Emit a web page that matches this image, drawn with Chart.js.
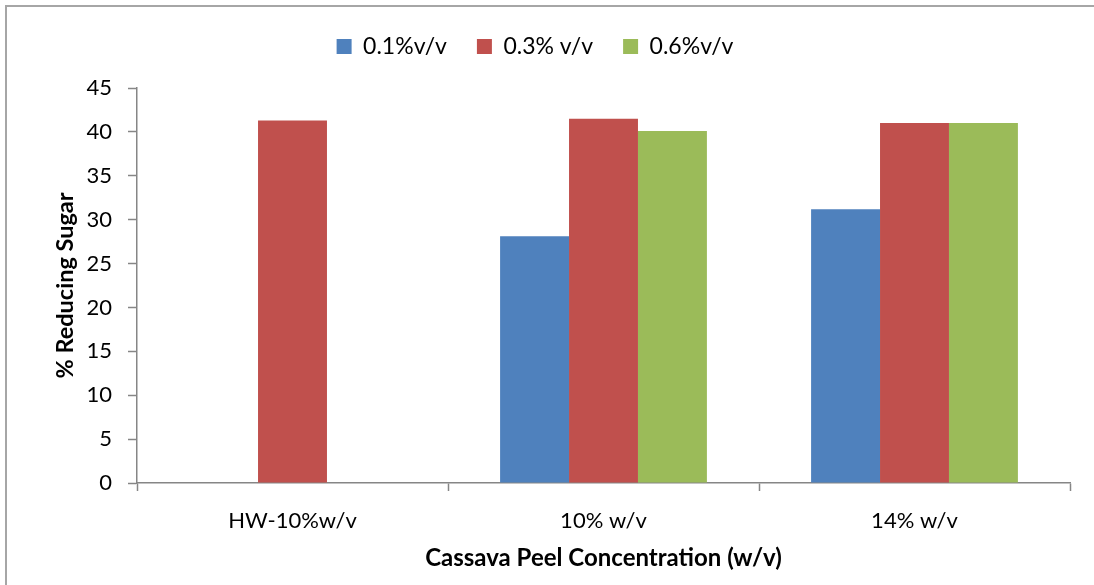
<!DOCTYPE html>
<html>
<head>
<meta charset="utf-8">
<script src="https://cdn.jsdelivr.net/npm/chart.js@4.4.0/dist/chart.umd.min.js"></script>
<style>
  html, body { margin: 0; padding: 0; background: #fff; }
  #wrap { position: relative; width: 1094px; height: 585px; }
  #frame {
    position: absolute; left: 5px; top: 5px; right: 0; bottom: 0;
    border-top: 2px solid #a6a6a6; border-left: 2px solid #a6a6a6;
    pointer-events: none;
  }
  canvas { position: absolute; left: 0; top: 0; }
</style>
</head>
<body>
<div id="wrap">
  <canvas id="sugarChart" width="1094" height="585"></canvas>
  <div id="frame"></div>
</div>
<script>
// Concentraciones de cáscara de yuca
const categories = ["HW-10%w/v", "10% w/v", "14% w/v"];

// % azúcar reductor por concentración de ácido
const acid01 = [null, 28.1, 31.2];
const acid03 = [41.3, 41.5, 41.0];
const acid06 = [null, 40.1, 41.0];

const seriesNames = ["0.1%v/v", "0.3% v/v", "0.6%v/v"];
const yTicks = [0, 5, 10, 15, 20, 25, 30, 35, 40, 45];

const FONT = "Lato, 'Open Sans', sans-serif";
const AXIS_GRAY = '#868686';

// Espacio extra entre la leyenda y el área del gráfico
const legendGap = {
    id: 'legendGap',
    beforeLayout(chart) {
        const lg = chart.legend;
        if (lg && !lg._gapPatched) {
            const fit = lg.fit;
            lg.fit = function () {
                fit.call(this);
                this.height += 20;
            };
            lg._gapPatched = true;
        }
    }
};

const ctx = document.getElementById('sugarChart').getContext('2d');
const sugarChart = new Chart(ctx, {
    type: 'bar',
    data: {
        labels: categories,
        datasets: [
            { label: seriesNames[0], data: acid01, backgroundColor: '#4F81BD' },
            { label: seriesNames[1], data: acid03, backgroundColor: '#C0504D' },
            { label: seriesNames[2], data: acid06, backgroundColor: '#9BBB59' }
        ]
    },
    options: {
        responsive: false,
        animation: false,
        events: [],
        layout: { padding: { left: 0, right: 24, top: 5, bottom: 0 } },
        datasets: {
            bar: { barPercentage: 1, categoryPercentage: 0.665 }
        },
        plugins: {
            tooltip: { enabled: false },
            legend: {
                position: 'top',
                labels: {
                    boxWidth: 15,
                    boxHeight: 15,
                    padding: 30,
                    color: '#000',
                    font: { family: FONT, size: 23 }
                }
            }
        },
        scales: {
            x: {
                grid: {
                    offset: true,
                    drawOnChartArea: false,
                    color: AXIS_GRAY,
                    tickLength: 8,
                    tickWidth: 1.5
                },
                border: { color: AXIS_GRAY, width: 1.5 },
                ticks: { color: '#000', padding: 17, font: { family: FONT, size: 22 } },
                title: {
                    display: true,
                    text: 'Cassava Peel Concentration (w/v)',
                    color: '#000',
                    padding: { top: 4, bottom: 12 },
                    font: { family: FONT, size: 24, weight: 'bold' }
                },
                afterFit: (scale) => { scale.height = 102; }
            },
            y: {
                min: 0,
                max: 45,
                afterBuildTicks: (scale) => { scale.ticks = yTicks.map(v => ({ value: v })); },
                grid: {
                    drawOnChartArea: false,
                    color: AXIS_GRAY,
                    tickLength: 9,
                    tickWidth: 1.5
                },
                border: { color: AXIS_GRAY, width: 1.5 },
                ticks: { color: '#000', padding: 16, font: { family: FONT, size: 22 } },
                title: {
                    display: true,
                    text: '% Reducing Sugar',
                    color: '#000',
                    padding: { top: 51, bottom: 0 },
                    font: { family: FONT, size: 23.5, weight: 'bold' }
                },
                afterFit: (scale) => { scale.width = 137; }
            }
        }
    },
    plugins: [legendGap]
});
</script>
</body>
</html>
